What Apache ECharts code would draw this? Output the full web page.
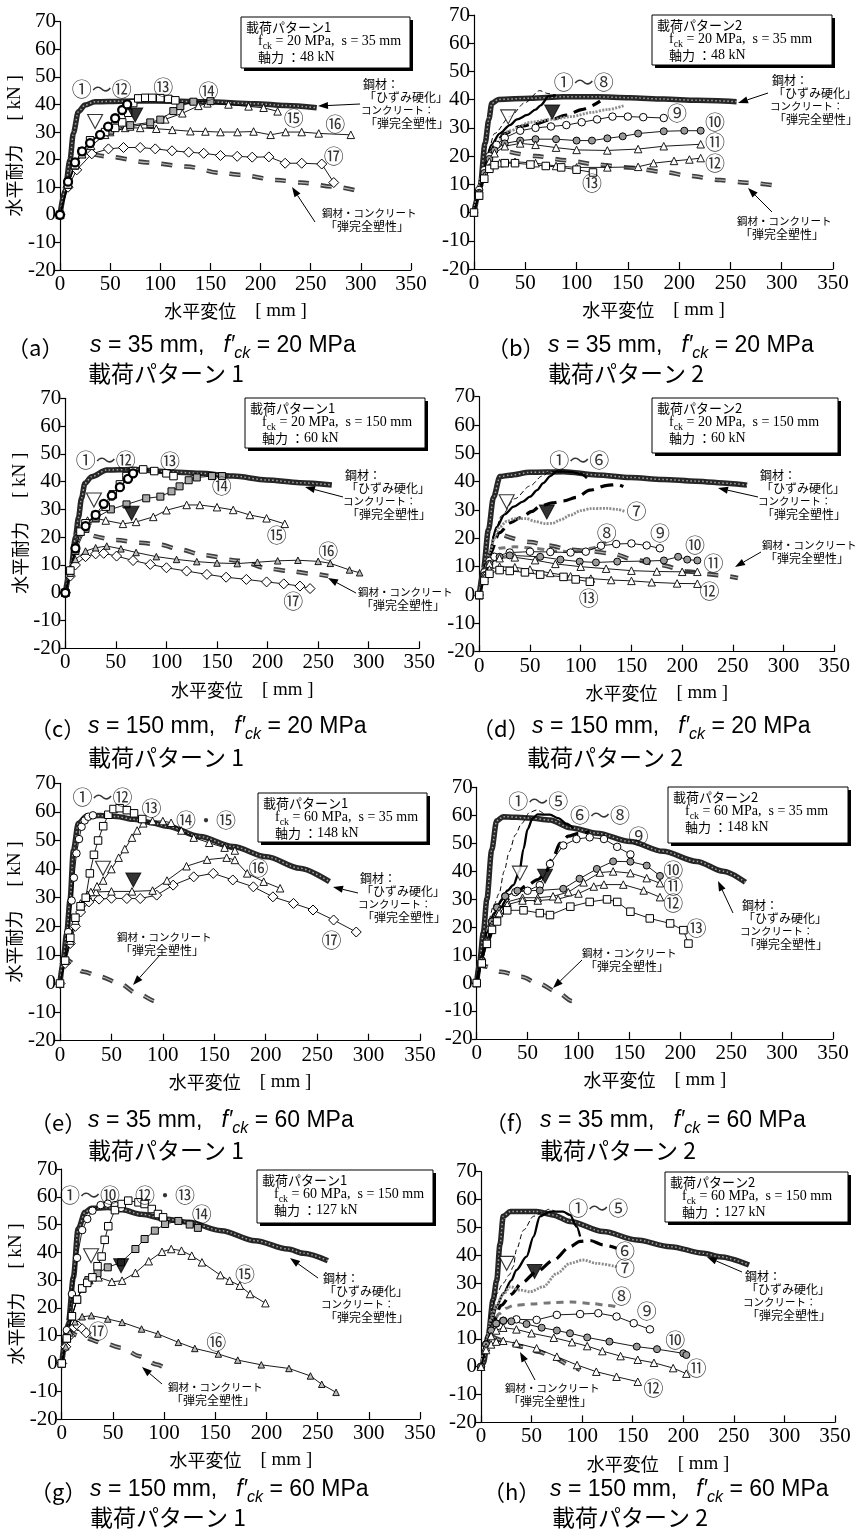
<!DOCTYPE html>
<html><head><meta charset="utf-8">
<script src="https://cdn.jsdelivr.net/npm/echarts@6/dist/echarts.min.js"></script>
<style>html,body{margin:0;padding:0;background:#fff}#c{width:861px;height:1530px}</style>
</head><body><div id="c"></div>
<script>
// ================= DATA =================
const X_MIN = 0, X_MAX = 350, X_STEP = 50;
const Y_MIN = -20, Y_MAX = 70, Y_STEP = 10;

// ---- (a) ----
const a_env = [[0,0],[5,9],[10,20],[13.3,29.6],[18.3,37.4],[25,39.8],[35,41],[62,41.2],[95,41.3],[145,41],[195,40.3],[225,39.6],[256,38.8]];
const a_epp = [[33,22],[50,21],[87,19],[126,17.5],[160,15.2],[180,14.5],[216,12.6],[240,11.7],[273,10.2],[296,8.8]];
const a_s12 = [[0,0],[8,12],[15,19],[22,23],[30,26],[40,29],[48,32],[55,35],[62,38],[67,40]];
const a_s13 = [[0,0],[8,11],[15,18],[22,23],[30,27],[45,30],[55,31.5],[62,33.5],[68,37],[73,40.5],[78,42.2],[85,42.4],[92,42.4],[100,42.3],[108,42],[115,41.5]];
const a_s14 = [[0,0],[8,11],[15,18],[22,23],[30,27],[50,30.5],[70,32.5],[90,33.5],[100,34.5],[113,37.6],[120,39.4],[133,41],[150,41.2]];
const a_s15 = [[0,0],[8,11],[15,18],[22,22],[30,27],[50,30],[70,32],[90,33],[105,34.6],[122,36.8],[138,39.5],[147,40.4],[168,40],[188,39.3],[203,38.8],[217,37.5]];
const a_s16 = [[0,0],[8,11],[15,18],[22,22],[31,25],[45,29],[65,31.5],[80,31.5],[96,31.2],[112,30.8],[130,30.3],[145,30.2],[160,30],[177,30],[193,30.2],[210,29],[225,30],[241,30],[258,29.5],[290,29]];
const a_s17 = [[0,0],[8,10],[16.7,16.3],[31.7,22.1],[48.3,23.9],[63.3,24.4],[80,24.4],[95,23.9],[111.7,23.2],[128.3,22.7],[143.3,22.3],[160,21.5],[176.7,21.2],[191.7,20.9],[208.3,21],[224.5,18.7],[241,18.7],[261,18.4],[273,11.7]];
const a_open = [[35,33.8]];
const a_filled = [[75,36.2]];
const a_labels = [[41.6,45.5,'①〜⑫'],[103,46.1,'⑬'],[148,44.6,'⑭'],[233,35,'⑮'],[274.5,32.6,'⑯'],[273,21.3,'⑰']];

// ---- (b) ----
const b_env = [[0,0],[3,5],[6,9.2],[10.8,24.5],[14.5,33],[17.3,38.7],[23.9,40.1],[55,40.5],[87,41],[120,41],[152,40.7],[185,40.2],[217,39.8],[256,39.3]];
const b_epp = [[35,21.5],[60,20],[90,18.5],[120,17],[150,16],[185,14.4],[210,13],[240,11.5],[266,10.6],[295,9.5]];
const b_thin = [[0,0],[8,12],[14,22],[20,28],[35,34],[50,39],[64,43.2],[72,42.2],[80,41.5]];
const b_solid = [[0,0],[5,8],[10,16],[17,24],[25,28],[35,31],[42,33],[52,34.6],[60,36.5],[65,38],[73,41.3],[80,41.5]];
const b_bold = [[0,0],[10,15],[20,24],[30,28],[45,30.5],[60,31.5],[76,33],[90,34.5],[105,36.5],[123,39.5]];
const b_dot = [[0,0],[10,15],[20,24],[35,29],[55,32],[75,33],[95,34],[115,35.5],[130,36.5],[147,38]];
const b_s9 = [[0,0],[5,8],[10,15],[15,20],[22,24],[30,26.5],[45,29],[60,30],[75,30.5],[90,31],[105,32],[120,33],[135,34],[150,34],[165,33.8],[185,33.5]];
const b_s10 = [[0,0],[5,7],[10,14],[15,19],[20,22],[30,24.5],[45,25.5],[60,26],[80,26],[100,25.5],[115,25.5],[130,26.3],[145,27],[160,28],[185,28.8],[205,29],[221,29]];
const b_s11 = [[0,0],[5,7],[10,13],[15,18],[20,21],[30,23.5],[45,24.5],[60,24],[80,23],[100,22.2],[130,22],[160,22.5],[185,23.5],[221,24.2]];
const b_s12 = [[0,0],[5,6],[10,12],[15,16],[25,17.5],[40,18],[60,17.5],[80,16.5],[100,16],[130,16],[160,16.2],[175,17.5],[195,18.3],[210,18.8],[221,19.3]];
const b_s13 = [[0,0],[5,6],[10,12],[15,15.5],[20,16.8],[30,17.5],[40,17.5],[55,17],[70,16.5],[85,16],[100,15.2],[116,14.2]];
const b_open = [[33.3,33.9]];
const b_filled = [[76.2,35.6]];
const b_labels = [[107,46.2,'①〜⑧'],[198,35.2,'⑨'],[235,32,'⑩'],[235,25,'⑪'],[235,17.5,'⑫'],[115,10.4,'⑬']];

// ---- (c) ----
const c_env = [[0,0],[6,9.5],[10,20],[13,27],[16,34],[19.4,39.4],[26,41.8],[41,44.2],[67,44.4],[100,43.6],[133,43],[166,42],[199,40.6],[232,39.6],[263.5,38.8]];
const c_epp = [[28,20.5],[50,19],[74,18],[94,17.3],[113,15.6],[136,13.6],[172,11.5],[202,8.6],[222,7.8],[242,6.9],[260,6]];
const c_s12 = [[0,0],[10,16],[20,24],[30,28],[38,32],[46,35],[54,38],[62,41],[67,43]];
const c_s13 = [[0,0],[5,8],[10,16],[15,22],[20,25],[30,28],[40,31],[47,35.4],[54,39],[60.5,42],[67,43.8],[77,44.4],[88,43.8],[100,43],[107,42]];
const c_s14 = [[0,0],[10,15],[20,23],[30,27],[45,30],[60.5,31.8],[80,34],[94,34.6],[105,36.5],[113,38.3],[122,40.5],[130,41.5],[145,42],[155,42]];
const c_s15 = [[0,0],[5,8],[10,16],[15,22],[22,26],[30,26.8],[40,26],[57,24.8],[70,25.5],[87,27.3],[100,29.7],[120,31.6],[133,31.6],[150,30.8],[166,29.8],[182.5,28],[199,26.8],[217,24.8]];
const c_s16 = [[0,0],[5,7],[10,12],[20,15],[30,16.2],[41,16.8],[55,15.8],[70,14.5],[90,13],[110,12],[130,11.2],[150,10.7],[170,10.5],[190,11],[210,11.5],[230,11.7],[250,11.3],[262,10.6],[281,8.2],[291,7.2]];
const c_s17 = [[0,0],[5,6],[10,10],[20,13],[30,14],[38,14.2],[50.7,13.2],[67,11.6],[84,10.2],[100,9],[120,7.8],[140,6.6],[159,5.6],[179,4.8],[199,3.9],[216,3.2],[232,2.4],[242,1.5]];
const c_open = [[28.3,33.4]];
const c_filled = [[65.5,28.6]];
const c_labels = [[40,47.8,'①〜⑫'],[103.5,47.4,'⑬'],[154.6,38.2,'⑭'],[209,20.8,'⑮'],[260,14.8,'⑯'],[225.4,-3.2,'⑰']];

// ---- (d) ----
const d_env = [[0,0],[4,9],[9,23],[14,34.5],[20.4,41.8],[30,42.3],[50,43.3],[83,43.5],[116,42.4],[149,41.5],[181,40.8],[214,40.2],[247,39.4],[264,38.8]];
const d_epp = [[25,21],[50,18.7],[68,17.5],[90,16],[110,15.4],[130,14.7],[155,12.3],[180,10.5],[205,8.3],[237,7],[255,6]];
const d_thin = [[0,0],[8,12],[15,22],[22,28],[35,34],[50,38.5],[62,42],[70,43.7],[80,43.3]];
const d_solid = [[0,0],[5,8],[10,15],[17,24],[25,28.5],[34,31.2],[43,33],[50,34.7],[57,37],[63,39.5],[70,42],[76,43.6],[90,43.5],[100,42.8],[106,41.2]];
const d_bold = [[0,0],[10,14],[20,22],[30,25.5],[41,27.3],[52,29.5],[60,31.4],[72,32.5],[83,33.2],[96,34.5],[109,37],[126,38.7],[136,39],[142,38.3]];
const d_dot = [[0,0],[5,8],[10,15],[15,20],[20,24],[27,26],[35,27],[46,27],[55,26],[65,25.2],[72,25.3],[80,26.5],[90,28.2],[100,29.8],[110,30.5],[126,30.6],[136,30.2],[144,29.4]];
const d_s8 = [[0,0],[5,8],[10,13],[20,16.5],[35,17],[55,16.5],[75,15.5],[95,15.3],[110,16.5],[125,18.5]];
const d_s9 = [[0,0],[5,8],[10,12],[15,13.5],[30,15],[50,15.3],[70,15.2],[90,15],[105,15.3],[120,17.4],[135,18],[150,18.2],[165,17.5],[178,16.5]];
const d_s10 = [[0,0],[5,7],[10,11],[20,13.5],[30,14],[60,13.5],[80,12.5],[99,11.8],[115,11.5],[136,11.8],[165,12],[182,12.2],[196,13.5],[205,12.5],[215,12.2]];
const d_s11 = [[0,0],[5,7],[10,11],[20,13],[35,13.3],[55,12.3],[75,11],[100,10],[125,9.3],[150,8.6],[175,8.3],[200,8.2],[215,8.2]];
const d_s12 = [[0,0],[5,6],[10,9],[20,10],[35,9.8],[50,9],[70,7.8],[90,6.6],[110,5.8],[130,5.3],[150,5],[170,4.5],[195,4.1],[215,4]];
const d_s13 = [[0,0],[5,5],[10,7.5],[20,8.8],[30,8.5],[45,8],[60,7.2],[83,6.4],[95,5.5],[109,4.7]];
const d_open = [[27,32.9]];
const d_filled = [[66.6,29.3]];
const d_labels = [[98.6,47.6,'①〜⑥'],[155,29.4,'⑦'],[125.6,21.8,'⑧'],[178.2,21.8,'⑨'],[212.7,17.6,'⑩'],[231,11.2,'⑪'],[227,1.2,'⑫'],[107.8,-1.2,'⑬']];

// ---- (e) ----
const e_env = [[0,0],[3,8],[6.5,17.5],[9.7,29],[13,46.5],[17.8,56],[26,58.6],[39,58.7],[55,58.4],[71,57.4],[88,56.3],[104,55],[136,51.4],[168,47.9],[201,44.3],[233,40.3],[262,35.6]];
const e_epp = [[2,9],[6.5,8.2],[23,4.1],[39,2.4],[58,0],[74.5,-3.4],[94,-6.3],[100,-7.5]];
const e_s1 = [[0,0],[4,8],[8,18],[11.3,29],[13.5,37],[16,45.5],[18.5,50.5],[21,54.8],[24,57],[27.5,58.3],[32,58.8]];
const e_s13 = [[0,0],[5,8],[10,16],[15,23],[20,27],[25,30],[29,38.5],[33,45],[37,50],[42,55],[47,59],[52,61],[58,61.3],[65,60.6],[72,59.5],[80,57.5]];
const e_s14 = [[0,0],[5,8],[10,15],[15,22],[20,27],[25,30],[30,32],[36,34],[42,36],[50,40],[57,44],[63,47],[70,51],[75,53.5],[81,56],[90,56.8],[100,56.8],[108,56.2],[118,53.5],[130,51],[145,49.2],[160,47.5],[170,46.5]];
const e_s16 = [[0,0],[5,8],[10,16],[15,23],[20,28],[27,31],[35,32],[50,32.2],[70,32.2],[90,32.5],[104,36],[123,41],[143,43.3],[162,44],[170,43.2],[182,38.5],[198,35.6],[214,33.3]];
const e_s17 = [[0,0],[5,7],[10,14],[15,20],[20,25],[28,28.5],[38,29.5],[50,29.8],[65,29.7],[78,29.7],[94,30.9],[110,34.4],[130,37.3],[149,38.5],[168,36.2],[188,33.8],[207,30.3],[227,28],[246,25.7],[266,22.2],[288,18]];
const e_open = [[41.8,40.3]];
const e_filled = [[71.3,36.2]];
const e_labels = [[41.3,65.2,'①〜⑫'],[89,61.2,'⑬'],[142,57.2,'⑭・⑮'],[193,40.3,'⑯'],[264,15.2,'⑰']];

// ---- (f) ----
const f_env = [[0,0],[3,8],[6.5,18],[10,30],[14.7,47.5],[19.6,58],[26,59.5],[52,59],[72,58.3],[92,55.5],[118,53.6],[151,50.6],[183,47.1],[216,43.5],[242,40],[264,36]];
const f_epp = [[3,8],[7,6],[24,4],[44,2.2],[61,-0.2],[78,-3],[94,-6.5],[99,-7.8]];
const f_thin = [[0,0],[5,10],[10,20],[17,28],[22,32],[27,40],[32,47],[38,53],[44,57],[52,61],[59,61.9],[66,60.5]];
const f_solid = [[0,0],[5,9],[10,18],[17,25],[25,30],[30,33],[36,35],[42,40],[46,48],[50,55],[55,59],[60,60.3],[72,60.2],[80,59],[88,57],[95,55.3]];
const f_bold = [[0,0],[10,14],[20,24],[30,30],[40,33],[50,35],[60,37],[67,39],[75,45],[82,50],[90,52.5],[100,53.5],[111,54]];
const f_s9 = [[0,0],[5,8],[10,15],[15,22],[20,27],[28,31],[38,32.5],[50,33],[62,35],[72,42.6],[85,49.2],[98,51.5],[111,52.1],[125,51.5],[138,48.7],[151,46]];
const f_s10 = [[0,0],[5,8],[10,15],[15,22],[20,27],[28,31],[40,33],[62,33.1],[85,33.7],[101,37.3],[118,40.8],[134,43.5],[151,43.4],[167,42],[180,38.3]];
const f_s11 = [[0,0],[5,8],[10,15],[15,21],[22,26],[30,29],[45,30.5],[60,30.5],[75,31],[90,32.5],[105,36],[121,39.5],[134,39.9],[151,39.3],[167,37.5],[180,35.7]];
const f_s12 = [[0,0],[5,7],[10,14],[15,20],[22,25],[30,28],[45,29.5],[60,29.5],[80,30],[100,32],[115,34.5],[125,35.2],[144,35.2],[164,33.1],[180,30.7]];
const f_s13 = [[0,0],[5,7],[10,14],[15,19],[20,22],[30,26],[46,26],[62,25],[72,24.3],[92,27.3],[111,29],[128,29.9],[138,29],[151,25.5],[170,23.1],[190,21.3],[203,18.9],[208,14.1]];
const f_open = [[42.4,39.3]];
const f_filled = [[67.1,38.2]];
const f_labels = [[60.5,64.9,'①〜⑤'],[121,60.1,'⑥〜⑧'],[159,52.4,'⑨'],[193,40.4,'⑩'],[193,34.5,'⑪'],[193,28.3,'⑫'],[216,19.6,'⑬']];

// ---- (g) ----
const g_env = [[0,0],[6.5,14.7],[11.4,31],[16,48.4],[22.8,54.4],[29,55.9],[45,56.1],[59,55.3],[78,53.7],[101,52],[124,50.8],[156,47.8],[189,44.2],[221,41.2],[236,39.7],[260,37]];
const g_epp = [[5,12],[20,9.5],[40,7.4],[59,5.6],[76,2.6],[93,-0.4],[100,-1.5]];
const g_s1 = [[0,0],[5,12],[10,25],[15,38],[20,48],[25,52],[30,55],[38,57],[45,57.5],[52,57],[58,56]];
const g_s12 = [[0,0],[5,9],[10,17],[15,23],[20,27],[25,29],[30,31],[35,35],[39,38.5],[42,44.5],[45.5,49.4],[52,55.2],[58.6,57.4],[65,58.6],[75,58],[81,57.4],[88,55.6],[94,53.8],[99,52.6]];
const g_s14 = [[0,0],[5,9],[10,17],[15,23],[20,27],[26,30],[35,32.5],[45,34.6],[58,36.4],[72,41.2],[81,44.8],[91,47.8],[101,50.2],[114,51.3],[125,50],[133,48.8]];
const g_s15 = [[0,0],[5,9],[10,17],[15,23],[20,27],[27,30],[36,31],[49,29.4],[59,29.8],[72,32.6],[85,36.8],[98,40.2],[107,41.2],[117,40.6],[127,38.8],[137,36.4],[155,31.8],[164,29.8],[174,28],[184,25],[199,21.7]];
const g_s16 = [[0,0],[4,6],[8,11],[13,15],[20,16.8],[29,17.2],[45,16],[59,14.8],[78,12.4],[94,10.6],[114,7.6],[130,5.4],[153,3.4],[172,1.2],[195,-0.5],[222,-1.8],[243,-4.5],[254,-7.5],[268,-10.4]];
const g_s17 = [[0,0],[4,6],[8,10],[12,13],[16,13.5],[20,12.5],[24,11]];
const g_open = [[28.7,38.8]];
const g_filled = [[58,35.2]];
const g_labels = [[27.6,60.4,'①〜⑩'],[101,60.4,'⑫・⑬'],[136.7,53.8,'⑭'],[179,32.2,'⑮'],[151,7.6,'⑯'],[35.7,11.7,'⑰']];

// ---- (h) ----
const h_env = [[0,0],[2.3,1.2],[7,11],[12,24],[15.5,31],[18.8,44],[22,54],[29,55.7],[55,55.7],[71,54.5],[88,52.1],[121,48.5],[154,45.5],[187,43.1],[220,40.7],[236,39.5],[265,36.5]];
const h_epp = [[10,11],[25,9],[40,7.2],[57,5.4],[73,3],[90,0],[98,-1.2]];
const h_thin = [[0,0],[5,10],[10,20],[15,26],[22,30],[28,33],[32,36],[35,42],[42,49],[52,54],[62,55.7],[67,56.5],[75,55.5]];
const h_solid = [[0,0],[5,9],[10,16],[16,22],[22,26.3],[30,31],[35,34.7],[45,39.5],[52,46.7],[58,53.9],[68,55.7],[81,55.7],[88,54.5],[94.6,50.3],[98,46.7]];
const h_bold = [[0,0],[10,14],[20,22],[30,26],[40,30],[55,34.1],[72,38.3],[88,43.1],[98,45],[108,45.3],[121,43.7],[134,42.5]];
const h_dot = [[0,0],[5,9],[10,17],[15,22],[22,26],[29,28.7],[38.6,27.5],[48.5,26.9],[61.6,28.7],[75,33.5],[88,37.1],[101,38.3],[114,37.1],[134,35.9]];
const h_s8 = [[0,0],[5,8],[10,14],[18,19],[25,21],[32,22],[50,22.5],[70,23],[90,23.2],[110,22.7],[125,22],[134,21.5]];
const h_s9 = [[0,0],[5,8],[10,13],[15,15.5],[22,16.5],[35,17],[55,16.8],[75,18.6],[98,18.9],[116,19.2],[134,18],[151,15.6],[167,13.4]];
const h_s10 = [[0,0],[5,8],[10,13],[15,15.5],[22,16.5],[30,16.3],[45,15.3],[60,14],[75,13],[88,12],[105,10.5],[127,9],[154,7.2],[174,6.3],[200,4.8],[203,4.2]];
const h_s11 = [[0,0],[5,7],[10,11],[15,13],[22,14],[35,13.4],[50,12],[72,10.4],[90,8.8],[105,7.4],[120,5.6],[138,3.8],[155,2.5],[171,1.4],[190,-0.5],[203,-2.5]];
const h_s12 = [[0,0],[5,6],[10,8],[15,9],[22,9.3],[35,8.4],[55,6.6],[75,3.6],[95,0.6],[114,-1.8],[134,-3.6],[155,-5.4]];
const h_open = [[25.4,37.1]];
const h_filled = [[53,34.2]];
const h_labels = [[116,56.9,'①〜⑤'],[142.4,41.3,'⑥'],[142.4,35.3,'⑦'],[139,25.1,'⑧'],[164,19.7,'⑨'],[192,9.6,'⑩'],[213,-0.6,'⑪'],[170.5,-7.8,'⑫']];

// panel texts
const PANEL_IDS = ['a','b','c','d','e','f','g','h'];
const S_MM     = ['35','35','150','150','35','35','150','150'];
const FCK_MPA  = ['20','20','20','20','60','60','60','60'];
const PATTERN  = ['1','2','1','2','1','2','1','2'];
const AXIAL_KN = ['48','48','60','60','148','148','127','127'];

// ================= LAYOUT / STYLE =================
const CJK = '"Noto Sans CJK JP"';
const LAY = [
 {grid:[60,21.7,351,248.3], yName:true, info:[241,17,169,51], hard:[363,84], hA:[360,104,318,106], epp:[322,213], eA:[315,222,292,187], cap:[7,90,348,88,373]},
 {grid:[474,15,359,254],   yName:false, info:[652,15,180,50], hard:[772,80], hA:[768,93,738,103], epp:[737,221], eA:[772,212,748,188], cap:[487,548,348,548,373]},
 {grid:[65.3,398.3,354,250], yName:true, info:[245,398,180,50], hard:[345,475], hA:[343,497,305,487], epp:[358,592], eA:[356,593,328,578], cap:[30,88,729,88,757]},
 {grid:[479.3,396.7,355,255], yName:false, info:[652,398,186,55], hard:[760,475], hA:[758,497,718,488], epp:[762,545], eA:[761,552,735,567], cap:[472,532,729,527,757]},
 {grid:[60,783.3,360,257.4], yName:true, info:[258,793,169,49], hard:[360,878], hA:[358,893,333,887], epp:[117,937], eA:[160,955,133,985], cap:[30,88,1123,88,1150]},
 {grid:[476.7,787.3,356.3,251.6], yName:false, info:[668,787,180,56], hard:[742,905], hA:[733,913,718,881], epp:[582,953], eA:[582,960,553,988], cap:[485,540,1123,540,1150]},
 {grid:[61.7,1169,358.3,250], yName:true, info:[257,1170,176,53], hard:[323,1278], hA:[318,1278,290,1258], epp:[168,1387], eA:[162,1384,142,1367], cap:[30,90,1492,90,1517]},
 {grid:[481,1171.7,354,250.7], yName:false, info:[665,1172,183,50], hard:[745,1276], hA:[742,1272,707,1257], epp:[505,1388], eA:[535,1380,520,1352], cap:[483,550,1492,552,1517]}
];

const PANELS = [
 {ser:[['epp',a_epp],['env',a_env],['dia',a_s17],['tri',a_s16],['tri',a_s15],['xsq',a_s14],['wsq',a_s13],['bcirc',a_s12]], open:a_open, filled:a_filled, labels:a_labels},
 {ser:[['epp',b_epp],['env',b_env],['thin',b_thin],['solid',b_solid],['bold',b_bold],['dot',b_dot],['wcirc',b_s9],['gcirc',b_s10],['tri',b_s11],['tri',b_s12],['wsq',b_s13]], open:b_open, filled:b_filled, labels:b_labels},
 {ser:[['epp',c_epp],['env',c_env],['dia',c_s17],['stri',c_s16],['tri',c_s15],['xsq',c_s14],['wsq',c_s13],['bcirc',c_s12]], open:c_open, filled:c_filled, labels:c_labels},
 {ser:[['epp',d_epp],['env',d_env],['thin',d_thin],['solid',d_solid],['bold',d_bold],['dot',d_dot],['hatch',d_s8],['wcirc',d_s9],['gcirc',d_s10],['tri',d_s11],['tri',d_s12],['wsq',d_s13]], open:d_open, filled:d_filled, labels:d_labels},
 {ser:[['epp',e_epp],['env',e_env],['wcirc',e_s1],['dia',e_s17],['tri',e_s16],['tri',e_s14],['wsq',e_s13]], open:e_open, filled:e_filled, labels:e_labels},
 {ser:[['epp',f_epp],['env',f_env],['thin',f_thin],['solid',f_solid],['bold',f_bold],['wcirc',f_s9],['gcirc',f_s10],['tri',f_s11],['tri',f_s12],['wsq',f_s13]], open:f_open, filled:f_filled, labels:f_labels},
 {ser:[['epp',g_epp],['env',g_env],['wcirc',g_s1],['dia',g_s17],['stri',g_s16],['tri',g_s15],['xsq',g_s14],['wsq',g_s12]], open:g_open, filled:g_filled, labels:g_labels},
 {ser:[['epp',h_epp],['env',h_env],['thin',h_thin],['solid',h_solid],['bold',h_bold],['dot',h_dot],['hatch',h_s8],['wcirc',h_s9],['gcirc',h_s10],['tri',h_s11],['tri',h_s12]], open:h_open, filled:h_filled, labels:h_labels}
];

function lineOnly(d, ls, z){ return {type:'line', data:d, showSymbol:false, symbol:'none', smooth:0.3, smoothMonotone:'x', lineStyle:ls, z:z||4, silent:true}; }
function marker(sym, size, fill, bw){
  return d => [{type:'line', data:d, symbol:sym, symbolSize:size, showSymbol:true, showAllSymbol:true,
    lineStyle:{color:'#000', width:0.9}, itemStyle:{color:fill, borderColor:'#000', borderWidth:bw||0.9}, z:5, silent:true}];
}
const STY = {
  env: d => [lineOnly(d,{color:'#262626', width:5.5},3), lineOnly(d,{color:'#a8a8a8', width:1.5, type:[1.5,2.5]},3.5)],
  epp: d => [lineOnly(d,{color:'#3d3d3d', width:4.5, type:[11,12]},3), lineOnly(d,{color:'#b8b8b8', width:1.2, type:[11,12]},3.5)],
  solid: d => [lineOnly(d,{color:'#000', width:2.3},4)],
  thin: d => [lineOnly(d,{color:'#000', width:1, type:[5,3]},4)],
  bold: d => [lineOnly(d,{color:'#000', width:3.2, type:[13,7]},4)],
  dot: d => [lineOnly(d,{color:'#8c8c8c', width:2.8, type:[2,1.3]},4)],
  hatch: d => [lineOnly(d,{color:'#777', width:3, type:[7,6]},4)],
  wcirc: marker('circle',7.5,'#fff',1),
  bcirc: marker('circle',8,'#fff',2.3),
  gcirc: marker('circle',7,'#9a9a9a',1),
  wsq: marker('rect',7.5,'#fff',1),
  xsq: marker('rect',7,'#aaa',1),
  tri: marker('triangle',7.5,'#fff',0.9),
  stri: marker('triangle',6.5,'#bbb',0.9),
  dia: marker('diamond',10,'#fff',1)
};

// graphic helpers
function T(x,y,text,st){
  return {type:'text', x:x, y:y, z:60, style:Object.assign({text:text, fill:'#000', align:'left', verticalAlign:'middle', textAlign:'left', textVerticalAlign:'middle', fontSize:12, fontFamily:CJK}, st||{})};
}
function arrow(a){
  const [x1,y1,x2,y2] = a, dx=x2-x1, dy=y2-y1, L=Math.hypot(dx,dy), ux=dx/L, uy=dy/L, hl=10, hw=3.6;
  const bx=x2-ux*hl, by=y2-uy*hl;
  return [
    {type:'line', z:60, shape:{x1:x1,y1:y1,x2:bx,y2:by}, style:{stroke:'#000', lineWidth:1}},
    {type:'polygon', z:60, shape:{points:[[x2,y2],[bx-uy*hw,by+ux*hw],[bx+uy*hw,by-ux*hw]]}, style:{fill:'#000'}}
  ];
}
const SERIF = 'Liberation Serif';
const SANS = 'Liberation Sans';

const option = {animation:false, backgroundColor:'#fff', grid:[], xAxis:[], yAxis:[], series:[], graphic:[]};

PANELS.forEach((p,i)=>{
  const L = LAY[i];
  option.grid.push({left:L.grid[0], top:L.grid[1], width:L.grid[2], height:L.grid[3], containLabel:false, outerBoundsMode:'none'});
  option.xAxis.push({gridIndex:i, type:'value', min:X_MIN, max:X_MAX, interval:X_STEP,
    axisLine:{show:true, onZero:false, lineStyle:{color:'#000', width:1.2}},
    axisTick:{show:true, inside:true, length:7, lineStyle:{color:'#000', width:1.2}},
    axisLabel:{show:true, color:'#000', fontFamily:SERIF, fontSize:21, margin:4, showMinLabel:true, showMaxLabel:true},
    splitLine:{show:false},
    name:'{j|水平変位}{s|　[ mm ]}', nameLocation:'middle', nameGap:32,
    nameTextStyle:{color:'#000', rich:{j:{fontFamily:CJK, fontSize:18, color:'#000'}, s:{fontFamily:SERIF, fontSize:19, color:'#000'}}}
  });
  option.yAxis.push({gridIndex:i, type:'value', min:Y_MIN, max:Y_MAX, interval:Y_STEP,
    axisLine:{show:true, onZero:false, lineStyle:{color:'#000', width:1.2}},
    axisTick:{show:true, inside:false, length:5, lineStyle:{color:'#000', width:1.2}},
    axisLabel:{show:true, color:'#000', fontFamily:SERIF, fontSize:21, margin:4, showMinLabel:true, showMaxLabel:true},
    splitLine:{show:false},
    name: L.yName ? '{j|水平耐力}{s|　 [ kN ]}' : '', nameLocation:'middle', nameRotate:90, nameGap:31,
    nameTextStyle:{color:'#000', rich:{j:{fontFamily:CJK, fontSize:18, color:'#000'}, s:{fontFamily:SERIF, fontSize:19, color:'#000'}}}
  });
  p.ser.forEach(([k,d])=>{ STY[k](d).forEach(s=>{ s.xAxisIndex=i; s.yAxisIndex=i; option.series.push(s); }); });
  option.series.push({type:'scatter', xAxisIndex:i, yAxisIndex:i, data:p.open, symbol:'triangle', symbolRotate:180, symbolSize:[15,14],
    itemStyle:{color:'#fff', borderColor:'#000', borderWidth:1.1}, z:8, silent:true});
  option.series.push({type:'scatter', xAxisIndex:i, yAxisIndex:i, data:p.filled, symbol:'triangle', symbolRotate:180, symbolSize:[15,14],
    itemStyle:{color:'#000', borderColor:'#000', borderWidth:1}, z:8, silent:true});
  option.series.push({type:'scatter', xAxisIndex:i, yAxisIndex:i, data:p.labels.map(l=>({value:[l[0],l[1]], name:l[2]})),
    symbolSize:0, label:{show:true, position:'inside', formatter:'{b}', fontFamily:CJK, fontSize:20, color:'#000'}, z:9, silent:true});

  // info box
  const [bx,by,bw,bh] = L.info;
  option.graphic.push({type:'rect', z:55, shape:{x:bx+3,y:by+3,width:bw,height:bh}, style:{fill:'#000'}});
  option.graphic.push({type:'rect', z:56, shape:{x:bx,y:by,width:bw,height:bh}, style:{fill:'#fff', stroke:'#000', lineWidth:1}});
  option.graphic.push(T(bx+5, by+10, '載荷パターン'+PATTERN[i], {fontSize:13}));
  option.graphic.push({type:'text', x:bx+17, y:by+26, z:60, style:{text:'{f|f}{c|ck}{n| = '+FCK_MPA[i]+' MPa,  s = '+S_MM[i]+' mm}', align:'left', verticalAlign:'middle', textAlign:'left', textVerticalAlign:'middle',
    rich:{f:{fontFamily:SERIF, fontSize:14, verticalAlign:'bottom', padding:[0,0,3,0], fill:'#000', color:'#000'}, c:{fontFamily:SERIF, fontSize:10, verticalAlign:'bottom', fill:'#000', color:'#000'}, n:{fontFamily:SERIF, fontSize:14, verticalAlign:'bottom', padding:[0,0,3,0], fill:'#000', color:'#000'}}}});
  option.graphic.push({type:'text', x:bx+17, y:by+40, z:60, style:{text:'{j|軸力 ：}{n|'+AXIAL_KN[i]+' kN}', align:'left', verticalAlign:'middle', textAlign:'left', textVerticalAlign:'middle',
    rich:{j:{fontFamily:CJK, fontSize:13, fill:'#000', color:'#000'}, n:{fontFamily:SERIF, fontSize:14, fill:'#000', color:'#000'}}}});

  // notes
  const [hx,hy] = L.hard;
  option.graphic.push(T(hx, hy, '鋼材：'));
  option.graphic.push(T(hx+1, hy+13, '「ひずみ硬化」'));
  option.graphic.push(T(hx-2, hy+26, 'コンクリート：', {fontSize:10.5}));
  option.graphic.push(T(hx+2, hy+39, '「弾完全塑性」'));
  arrow(L.hA).forEach(g=>option.graphic.push(g));
  const [ex,ey] = L.epp;
  option.graphic.push(T(ex, ey, '鋼材・コンクリート', {fontSize:10.5}));
  option.graphic.push(T(ex+3, ey+13, '「弾完全塑性」'));
  arrow(L.eA).forEach(g=>option.graphic.push(g));

  // captions
  const [px,sx,y1,lx,y2] = L.cap;
  option.graphic.push(T(px, y1, '（'+PANEL_IDS[i]+'）', {fontSize:22, fontFamily:CJK}));
  option.graphic.push({type:'text', x:sx, y:y1, z:60, style:{text:'{i|s}{n| = '+S_MM[i]+' mm,   }{i|f′}{c|ck}{n| = '+FCK_MPA[i]+' MPa}', align:'left', verticalAlign:'middle', textAlign:'left', textVerticalAlign:'middle',
    rich:{i:{fontFamily:SANS, fontStyle:'italic', fontSize:23, verticalAlign:'bottom', padding:[0,0,4,0], fill:'#000', color:'#000'},
          n:{fontFamily:SANS, fontSize:23, verticalAlign:'bottom', padding:[0,0,4,0], fill:'#000', color:'#000'},
          c:{fontFamily:SANS, fontStyle:'italic', fontSize:16, verticalAlign:'bottom', fill:'#000', color:'#000'}}}});
  option.graphic.push(T(lx, y2, '載荷パターン '+PATTERN[i], {fontSize:23, fontFamily:CJK}));
});

const chart = echarts.init(document.getElementById('c'), null, {renderer:'canvas'});
chart.setOption(option);
</script>
</body></html>
